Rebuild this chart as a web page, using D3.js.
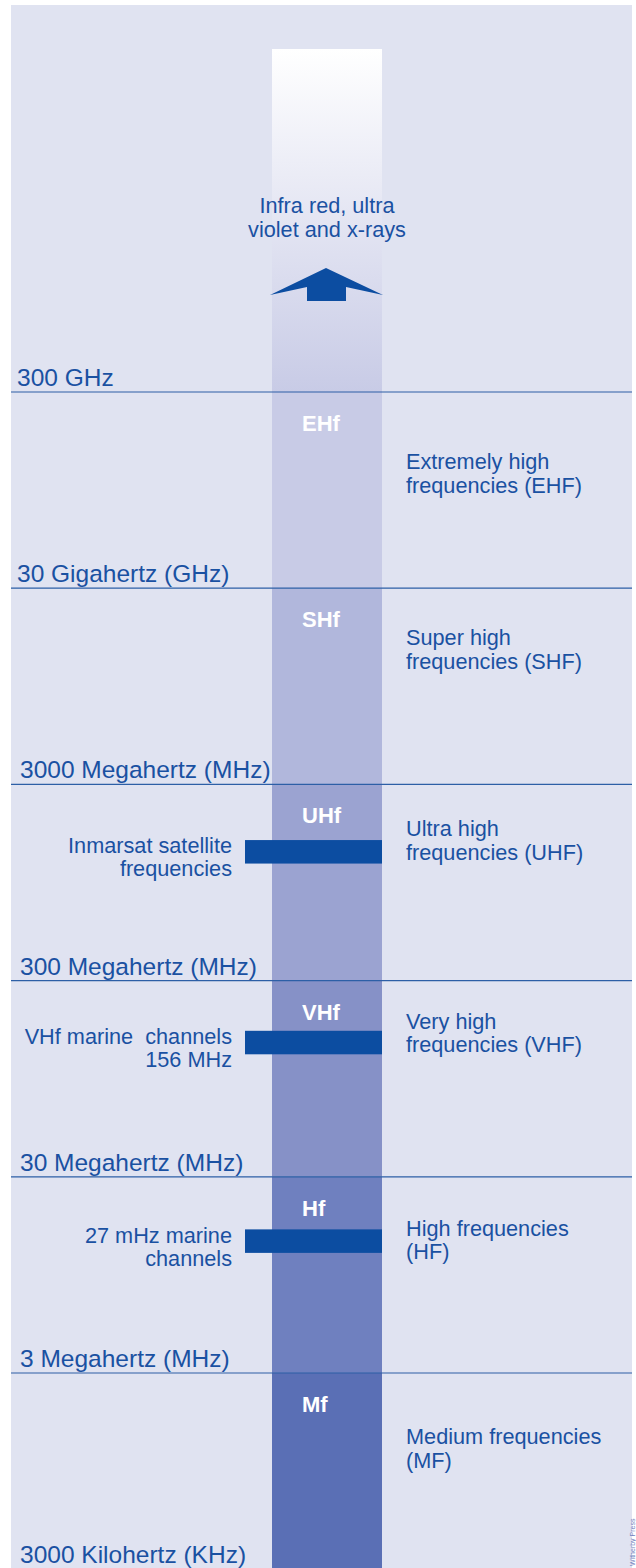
<!DOCTYPE html>
<html>
<head>
<meta charset="utf-8">
<script src="https://cdn.jsdelivr.net/npm/d3@7"></script>
<style>
  html, body { margin: 0; padding: 0; background: #ffffff; }
  svg { display: block; font-family: "Liberation Sans", Arial, Helvetica, sans-serif; }
  svg text { white-space: pre; }
</style>
</head>
<body>
<div id="chart"></div>
<script>
// Band boundaries (Hz), top to bottom, and the labels printed on them
const boundaryFreqs = [300e9, 30e9, 3e9, 300e6, 30e6, 3e6, 300e3];
const boundaryLabels = [
    "300 GHz",
    "30 Gigahertz (GHz)",
    "3000 Megahertz (MHz)",
    "300 Megahertz (MHz)",
    "30 Megahertz (MHz)",
    "3 Megahertz (MHz)",
    "3000 Kilohertz (KHz)"
];

// Bands between the boundaries
const bandCodes = ["EHf", "SHf", "UHf", "VHf", "Hf", "Mf"];
const bandNames = [
    ["Extremely high", "frequencies (EHF)"],
    ["Super high", "frequencies (SHF)"],
    ["Ultra high", "frequencies (UHF)"],
    ["Very high", "frequencies (VHF)"],
    ["High frequencies", "(HF)"],
    ["Medium frequencies", "(MF)"]
];

const serviceFreqs = [1.36e9, 1.45e8, 1.41e7];
const serviceLabels = [
    ["Inmarsat satellite", "frequencies"],
    ["VHf marine  channels", "156 MHz"],
    ["27 mHz marine", "channels"]
];

const aboveLabel = ["Infra red, ultra", "violet and x-rays"];

const W = 636, H = 1568;
const panel = { x: 11, y: 5, r: 632 };
const col = { x: 272, w: 110, top: 49 };
const ink = "#1a51a2";
const bandColors = ["#c8cbe6", "#b1b7dc", "#9ba3d1", "#8691c7", "#6f80bf", "#5a6fb5"];
// baseline offsets of the right-hand descriptions inside each band
const descDy = [77, 57, 52, 48, 59, 71];

const svg = d3.select("#chart").append("svg")
    .attr("width", W)
    .attr("height", H);

const y = d3.scaleLog()
    .domain([boundaryFreqs[0], boundaryFreqs[boundaryFreqs.length - 1]])
    .range([392, 1569.2]);

const defs = svg.append("defs");
const grad = defs.append("linearGradient")
    .attr("id", "fade")
    .attr("x1", 0).attr("y1", 0).attr("x2", 0).attr("y2", 1);
grad.append("stop").attr("offset", "0%").attr("stop-color", "#ffffff");
grad.append("stop").attr("offset", "100%").attr("stop-color", bandColors[0]);

// background panel
svg.append("rect")
    .attr("x", panel.x).attr("y", panel.y)
    .attr("width", panel.r - panel.x).attr("height", H - panel.y)
    .attr("fill", "#e0e3f1");

// fading column above 300 GHz
svg.append("rect")
    .attr("x", col.x).attr("y", col.top)
    .attr("width", col.w).attr("height", y(boundaryFreqs[0]) - col.top)
    .attr("fill", "url(#fade)");

// band column segments
const bands = bandCodes.map((code, i) => ({
    code, name: bandNames[i], hi: boundaryFreqs[i], lo: boundaryFreqs[i + 1], color: bandColors[i]
}));

svg.selectAll(".band")
    .data(bands)
    .enter().append("rect")
    .attr("class", "band")
    .attr("x", col.x)
    .attr("y", d => y(d.hi))
    .attr("width", col.w)
    .attr("height", d => y(d.lo) - y(d.hi))
    .attr("fill", d => d.color);

// boundary lines
svg.selectAll(".boundary")
    .data(boundaryFreqs.slice(0, -1))
    .enter().append("line")
    .attr("class", "boundary")
    .attr("x1", panel.x).attr("x2", panel.r)
    .attr("y1", d => y(d)).attr("y2", d => y(d))
    .attr("stroke", "#2d5fa6")
    .attr("stroke-width", 1.2);

// boundary labels
svg.selectAll(".blabel")
    .data(boundaryFreqs)
    .enter().append("text")
    .attr("class", "blabel")
    .attr("x", (d, i) => i < 2 ? 17 : 20)
    .attr("y", d => y(d) - 6)
    .attr("fill", ink)
    .style("font-size", "24.5px")
    .text((d, i) => boundaryLabels[i]);

// band codes inside the column
svg.selectAll(".code")
    .data(bands)
    .enter().append("text")
    .attr("class", "code")
    .attr("x", 302)
    .attr("y", d => y(d.hi) + 39)
    .attr("fill", "#ffffff")
    .style("font-size", "22px")
    .style("font-weight", "700")
    .text(d => d.code);

// band descriptions on the right
const desc = svg.selectAll(".desc")
    .data(bands)
    .enter().append("text")
    .attr("class", "desc")
    .attr("x", 406)
    .attr("y", (d, i) => y(d.hi) + descDy[i])
    .attr("fill", ink)
    .style("font-size", "21.7px");
desc.selectAll("tspan")
    .data(d => d.name)
    .enter().append("tspan")
    .attr("x", 406)
    .attr("dy", (d, i) => i === 0 ? 0 : 23.5)
    .text(d => d);

// marine service bars
const barH = 23.5;
svg.selectAll(".service")
    .data(serviceFreqs)
    .enter().append("rect")
    .attr("class", "service")
    .attr("x", 245)
    .attr("y", d => y(d) - barH / 2)
    .attr("width", col.x + col.w - 245)
    .attr("height", barH)
    .attr("fill", "#0c4da1");

const slab = svg.selectAll(".slabel")
    .data(serviceFreqs)
    .enter().append("text")
    .attr("class", "slabel")
    .attr("x", 232)
    .attr("y", d => y(d) + 1.5)
    .attr("text-anchor", "end")
    .attr("fill", ink)
    .style("font-size", "21.7px");
slab.selectAll("tspan")
    .data((d, i) => serviceLabels[i])
    .enter().append("tspan")
    .attr("x", 232)
    .attr("dy", (d, i) => i === 0 ? 0 : 23)
    .text(d => d);

// label and arrow above the spectrum
const cx = col.x + col.w / 2;
const aboveText = svg.append("text")
    .attr("x", cx)
    .attr("y", 213)
    .attr("text-anchor", "middle")
    .attr("fill", ink)
    .style("font-size", "21.7px");
aboveText.selectAll("tspan")
    .data(aboveLabel)
    .enter().append("tspan")
    .attr("x", cx)
    .attr("dy", (d, i) => i === 0 ? 0 : 23.5)
    .text(d => d);

const arrow = [
    [col.x - 2, 295], [cx - 1, 268], [col.x + col.w + 1, 295],
    [346, 287], [346, 301], [307, 301], [307, 287]
];
svg.append("path")
    .attr("d", d3.line()(arrow) + "Z")
    .attr("fill", "#0c4da1");

// faint credit on the right edge
svg.append("text")
    .attr("transform", `translate(635, 1566) rotate(-90)`)
    .attr("fill", "#6f82c0")
    .style("font-size", "7px")
    .text("Witherby Press");
</script>
</body>
</html>
